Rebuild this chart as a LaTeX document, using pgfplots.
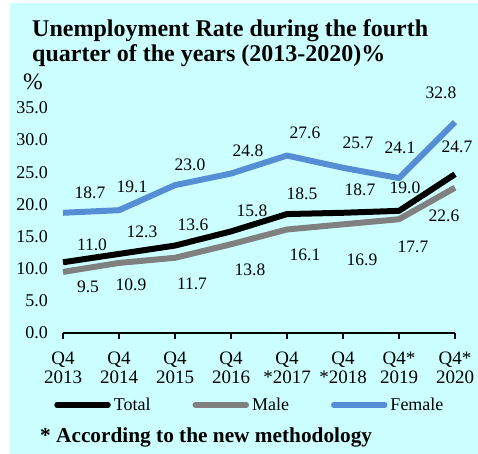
\documentclass[border=0pt]{standalone}
\usepackage{fontspec}
\setmainfont{Liberation Serif}
\usepackage{pgfplots}
\usepackage{pgfplotstable}
\pgfplotsset{compat=1.18}
\definecolor{bgc}{RGB}{204,255,255}
\definecolor{fem}{RGB}{85,142,213}
\definecolor{mal}{RGB}{128,128,128}

\pgfplotstableread{
x y dx dy
0 11.0 29 17
1 12.3 23 22
2 13.6 18 21
3 15.8 21 21
4 18.5 15 20
5 18.7 17 23
6 19.0 6 23
7 24.7 2 27
}\total
\pgfplotstableread{
x y dx dy
0 9.5 25 -15
1 10.9 12 -22
2 11.7 17 -26
3 13.8 19 -26
4 16.1 18 -25
5 16.9 19 -35
6 17.7 14 -28
7 22.6 -11 -28
}\male
\pgfplotstableread{
x y dx dy
0 18.7 27 20
1 19.1 13 23
2 23.0 15 20
3 24.8 17 23
4 27.6 18 23
5 25.7 15 25
6 24.1 1 30
7 32.8 -14 29
}\female

\begin{document}
\begin{tikzpicture}[x=1bp,y=1bp]
\fill[white] (0,0) rectangle (478,454);
\fill[bgc] (10,0) rectangle (478,451);
\useasboundingbox (0,0) rectangle (478,454);
\node[anchor=base west, inner sep=0pt, font=\fontsize{24bp}{26bp}\selectfont\bfseries] at (32,417) {Unemployment Rate during the fourth};
\node[anchor=base west, inner sep=0pt, font=\fontsize{24bp}{26bp}\selectfont\bfseries] at (32,392) {quarter of the years (2013-2020)\%};
\node[anchor=base west, inner sep=0pt, font=\fontsize{23.5bp}{24bp}\selectfont] at (23,364) {\%};
\node[anchor=base west, inner sep=0pt, font=\fontsize{21.3bp}{23bp}\selectfont\bfseries] at (40,11) {* According to the new methodology};
\begin{axis}[
  at={(63bp,121bp)}, anchor=south west,
  scale only axis, width=392bp, height=225bp,
  xmin=0, xmax=7, ymin=0, ymax=35,
  clip=false,
  axis x line*=bottom, axis y line*=left,
  x axis line style={black, line width=1.5bp, -},
  y axis line style={draw=none},
  xtick={0,...,7},
  xticklabels={{Q4\\2013},{Q4\\2014},{Q4\\2015},{Q4\\2016},{Q4\\*2017},{Q4\\*2018},{Q4*\\2019},{Q4*\\2020}},
  xticklabel style={align=center, font=\fontsize{19bp}{19.5bp}\selectfont, yshift=-9bp},
  major tick length=6bp,
  tick align=outside,
  xtick style={black, line width=1.5bp},
  ytick={0,5,...,35},
  yticklabel style={font=\fontsize{18bp}{20bp}\selectfont, anchor=east, inner sep=0pt},
  ytick style={draw=none},
  /pgf/number format/assume math mode=true,
  yticklabel={\pgfmathprintnumber[fixed,fixed zerofill,precision=1,assume math mode=true]{\tick}},
  yticklabel shift=9bp,
  visualization depends on={\thisrow{dx}\as\dx},
  visualization depends on={\thisrow{dy}\as\dy},
  nodes near coords={\pgfmathprintnumber[fixed,fixed zerofill,precision=1,assume math mode=true]{\pgfplotspointmeta}},
  every node near coord/.style={anchor=center, inner sep=0pt, xshift=\dx bp, yshift=\dy bp, font=\fontsize{17.5bp}{19bp}\selectfont, text=black},
  legend columns=3,
  legend style={at={(0.478,-0.32)}, anchor=center, draw=none, fill=none,
    font=\fontsize{18bp}{20bp}\selectfont,
    nodes={inner sep=3bp},
    /tikz/every even column/.append style={column sep=39bp}},
  legend image code/.code={\draw[#1, line cap=round, line width=5.5bp] (0bp,0bp) -- (51bp,0bp);},
]
\addplot[black, line width=6bp, line join=round, mark=none] table[x=x,y=y] {\total};
\addlegendentry{Total}
\addplot[mal, line width=6bp, line join=round, mark=none] table[x=x,y=y] {\male};
\addlegendentry{Male}
\addplot[fem, line width=6bp, line join=round, mark=none] table[x=x,y=y] {\female};
\addlegendentry{Female}
\end{axis}
\end{tikzpicture}
\end{document}
